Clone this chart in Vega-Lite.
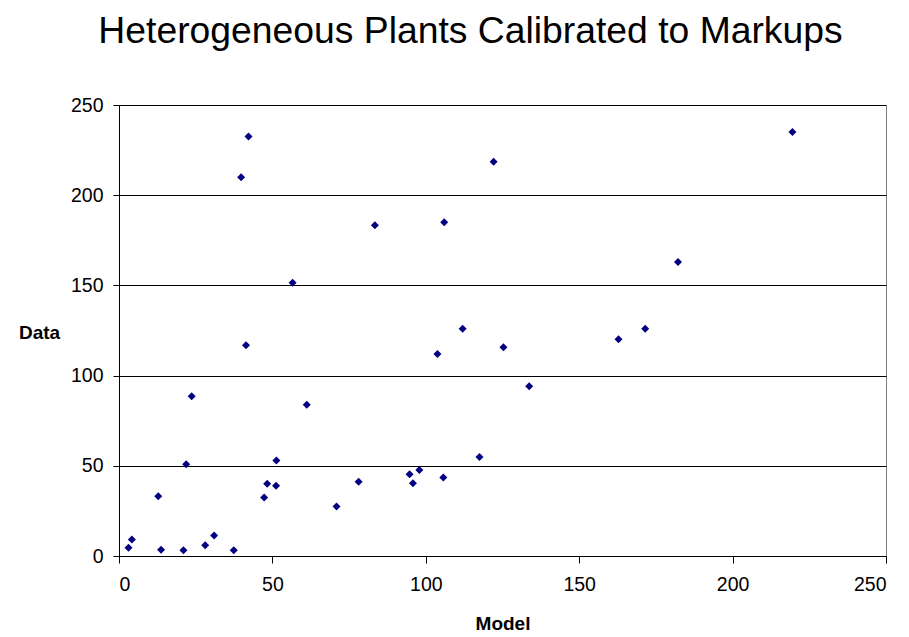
{
  "$schema": "https://vega.github.io/schema/vega-lite/v6.json",
  "width": 767,
  "height": 451,
  "autosize": {"type": "none"},
  "padding": {"left": 119, "top": 105, "right": 23, "bottom": 81},
  "background": "white",
  "title": {
    "text": "Heterogeneous Plants Calibrated to Markups",
    "font": "Liberation Sans",
    "fontSize": 37.3,
    "fontWeight": "normal",
    "color": "black",
    "anchor": "middle",
    "frame": "group",
    "baseline": "alphabetic",
    "offset": 62,
    "dx": -32,
    "dy": 47
  },
  "config": {
    "view": {"stroke": "#808080", "strokeWidth": 1},
    "axis": {
      "labelFont": "Liberation Sans",
      "labelFontSize": 19.5,
      "labelColor": "black",
      "titleFont": "Liberation Sans",
      "titleFontSize": 19,
      "titleFontWeight": "bold",
      "titleColor": "black",
      "domainColor": "black",
      "tickColor": "black",
      "tickSize": 7,
      "gridColor": "black",
      "gridOpacity": 1
    }
  },
  "data": {
    "values": [
      {"model": 42.2, "data": 232.6},
      {"model": 39.8, "data": 209.9},
      {"model": 83.4, "data": 183.3},
      {"model": 56.6, "data": 151.5},
      {"model": 41.4, "data": 116.8},
      {"model": 23.7, "data": 88.5},
      {"model": 61.2, "data": 83.9},
      {"model": 21.9, "data": 50.8},
      {"model": 51.3, "data": 53.0},
      {"model": 48.3, "data": 40.1},
      {"model": 51.2, "data": 39.0},
      {"model": 47.3, "data": 32.4},
      {"model": 12.8, "data": 33.1},
      {"model": 78.1, "data": 41.2},
      {"model": 70.9, "data": 27.5},
      {"model": 4.2, "data": 9.1},
      {"model": 3.1, "data": 4.6},
      {"model": 13.7, "data": 3.5},
      {"model": 21.0, "data": 3.2},
      {"model": 28.1, "data": 5.9},
      {"model": 31.0, "data": 11.3},
      {"model": 37.4, "data": 3.2},
      {"model": 122.1, "data": 218.6},
      {"model": 106.0, "data": 185.0},
      {"model": 182.2, "data": 163.0},
      {"model": 112.0, "data": 126.0},
      {"model": 103.8, "data": 112.0},
      {"model": 125.3, "data": 115.7},
      {"model": 162.8, "data": 120.1},
      {"model": 171.5, "data": 126.0},
      {"model": 133.7, "data": 94.1},
      {"model": 117.5, "data": 54.9},
      {"model": 94.7, "data": 45.3},
      {"model": 97.9, "data": 47.7},
      {"model": 95.8, "data": 40.3},
      {"model": 105.7, "data": 43.5},
      {"model": 219.5, "data": 235.0}
    ]
  },
  "mark": {"type": "point", "shape": "diamond", "filled": true, "size": 64, "color": "#000080", "opacity": 1},
  "encoding": {
    "x": {
      "field": "model",
      "type": "quantitative",
      "scale": {"domain": [0, 250], "nice": false},
      "axis": {
        "title": "Model",
        "values": [0, 50, 100, 150, 200, 250],
        "grid": false,
        "labelPadding": 12,
        "titleY": 67,
        "titleBaseline": "middle"
      }
    },
    "y": {
      "field": "data",
      "type": "quantitative",
      "scale": {"domain": [0, 250], "nice": false},
      "axis": {
        "title": "Data",
        "values": [0, 50, 100, 150, 200, 250],
        "grid": true,
        "tickSize": 6,
        "labelPadding": 10,
        "titleAngle": 0,
        "titleX": -80,
        "titleY": 227,
        "titleAlign": "center",
        "titleBaseline": "middle"
      }
    }
  }
}
